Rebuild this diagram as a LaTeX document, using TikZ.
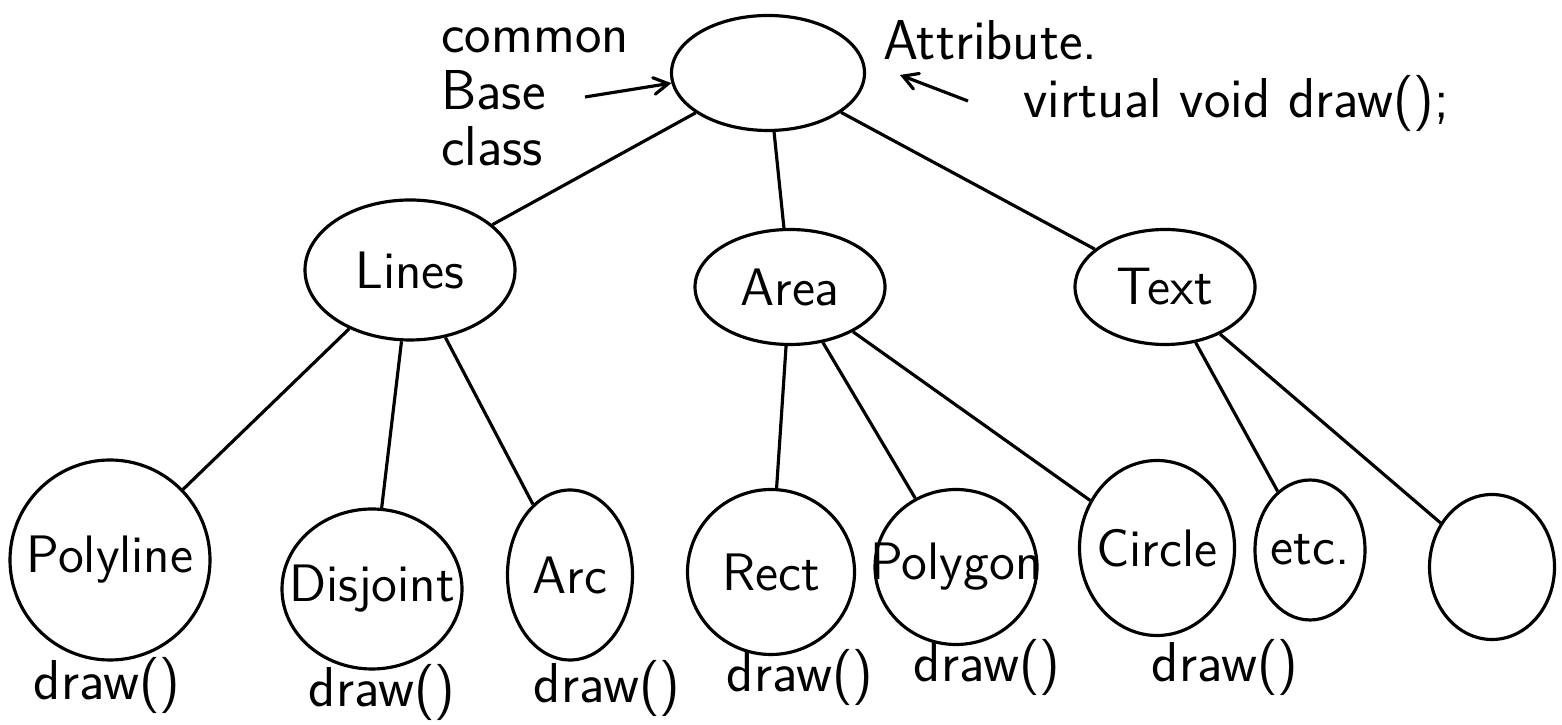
\documentclass[tikz,border=0pt]{standalone}
\usepackage{tikz}
\usetikzlibrary{arrows}
\usetikzlibrary{shapes.geometric}

\begin{document}
\begin{tikzpicture}[>=angle 60, line width=0.9pt,
  every node/.style={font=\sffamily\fontsize{16}{19}\selectfont},
  blob/.style={draw, ellipse, inner sep=0pt, font=\sffamily\fontsize{15}{18}\selectfont},
  note/.style={align=left, font=\sffamily\fontsize{16}{16}\selectfont}]
  \useasboundingbox (0,0) rectangle (15.62,7.25);
  % base class and notes
  \node [blob, minimum width=1.93cm, minimum height=1.15cm] (root) at (7.68,6.52) {};
  \node [note, anchor=west] (common) at (4.28,6.28) {common\\Base\\class};
  \node [anchor=west] (attr) at (8.70,6.85) {Attribute.};
  \node [anchor=west] (virt) at (10.10,6.22) {virtual void draw();};
  \coordinate (basetail) at (5.85,6.28);
  \coordinate (virttail) at (9.68,6.24);
  \coordinate (attrtip) at (9.00,6.50);
  \draw [->] (basetail) -- (root.186);
  \draw [->] (virttail) -- (attrtip);
  % second row
  \node [blob, minimum width=2.1cm, minimum height=1.4cm] (lines) at (4.10,4.55) {\makebox[0pt]{Lines}};
  \node [blob, minimum width=1.9cm, minimum height=1.15cm] (area) at (7.90,4.38) {\makebox[0pt]{Area}};
  \node [blob, minimum width=1.8cm, minimum height=1.15cm] (text) at (11.65,4.38) {\makebox[0pt]{Text}};
  \draw (root) -- (lines);
  \draw (root) -- (area);
  \draw (root) -- (text);
  % leaves
  \node [blob, minimum width=2.0cm, minimum height=2.0cm] (polyline) at (1.10,1.65) {\makebox[0pt]{Polyline}};
  \node [blob, minimum width=1.8cm, minimum height=1.6cm] (disjoint) at (3.72,1.36) {\makebox[0pt]{Disjoint}};
  \node [blob, minimum width=1.25cm, minimum height=1.7cm] (arc) at (5.70,1.50) {\makebox[0pt]{Arc}};
  \node [blob, minimum width=1.67cm, minimum height=1.65cm] (rect) at (7.71,1.53) {\makebox[0pt]{Rect}};
  \node [blob, minimum width=1.62cm, minimum height=1.55cm] (polygon) at (9.56,1.58) {\makebox[0pt]{Polygon}};
  \node [blob, minimum width=1.55cm, minimum height=1.75cm] (circle) at (11.57,1.77) {\makebox[0pt]{Circle}};
  \node [blob, minimum width=1.1cm, minimum height=1.4cm] (etc) at (13.10,1.75) {\makebox[0pt]{etc.}};
  \node [blob, minimum width=1.25cm, minimum height=1.45cm] (empty) at (14.92,1.58) {};
  \draw (lines) -- (polyline);
  \draw (lines) -- (disjoint);
  \draw (lines) -- (arc);
  \draw (area) -- (rect);
  \draw (area) -- (polygon);
  \draw (area) -- (circle);
  \draw (text) -- (etc);
  \draw (text) -- (empty);
  % draw() labels
  \node (dpolyline) at (1.07,0.40) {draw()};
  \node (ddisjoint) at (3.82,0.33) {draw()};
  \node (darc) at (6.07,0.37) {draw()};
  \node (drect) at (8.00,0.48) {draw()};
  \node (dpolygon) at (9.87,0.58) {draw()};
  \node (dcircle) at (12.25,0.58) {draw()};
\end{tikzpicture}
\end{document}
